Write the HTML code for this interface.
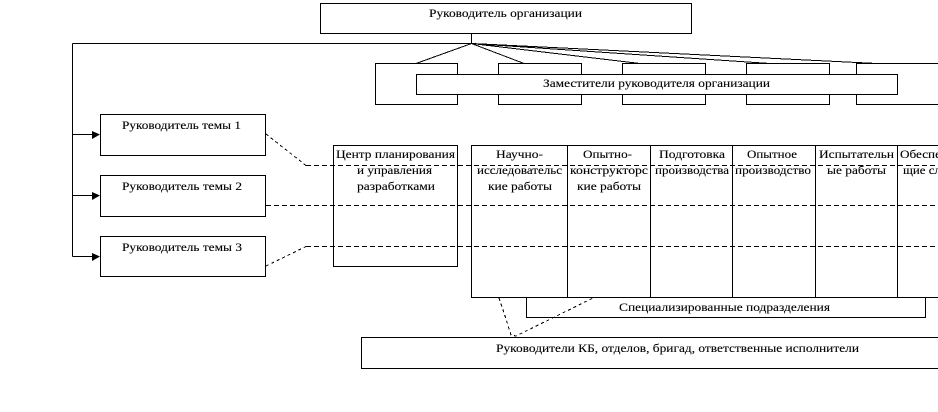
<!DOCTYPE html>
<html>
<head>
<meta charset="utf-8">
<style>
html,body{margin:0;padding:0;background:#fff;overflow:hidden}
svg{display:block}
.b{fill:#fff;stroke:#000;stroke-width:1;shape-rendering:crispEdges}
.l{fill:none;stroke:#000;stroke-width:1;shape-rendering:crispEdges}
.f{fill:none;stroke:#000;stroke-width:1;shape-rendering:crispEdges}
.d{fill:none;stroke:#000;stroke-width:1;stroke-dasharray:5 3;shape-rendering:crispEdges}
.s{fill:none;stroke:#000;stroke-width:1;stroke-dasharray:3 3;shape-rendering:crispEdges}
text{font-family:"Liberation Serif","Noto Serif CJK SC",serif;font-size:12px;fill:#000;stroke:#000;stroke-width:.12px}
</style>
</head>
<body>
<svg width="938" height="412" viewBox="0 0 938 412" xmlns="http://www.w3.org/2000/svg">
<rect x="0" y="0" width="938" height="412" fill="#fff"/>

<!-- top box -->
<rect class="b" x="320.5" y="3.5" width="371" height="30"/>
<path class="l" d="M471.5 33.5V43.5M72.5 43.5H471.5M72.5 43.5V256.5"/>

<!-- fan connectors -->
<path class="f" d="M471.5 43.5L416 63.5M471.5 43.5L524 63.5M471.5 43.5L640 63.5M471.5 43.5L770 63.5M471.5 43.5L877 63.5"/>

<!-- deputy boxes -->
<rect class="b" x="375.5" y="63.5" width="82" height="41"/>
<rect class="b" x="498.5" y="63.5" width="83" height="41"/>
<rect class="b" x="622.5" y="63.5" width="83" height="41"/>
<rect class="b" x="746.5" y="63.5" width="83" height="41"/>
<rect class="b" x="856.5" y="63.5" width="100" height="41"/>
<rect class="b" x="416.5" y="74.5" width="481" height="20"/>

<!-- theme leaders -->
<path class="l" d="M72.5 134.5H94M72.5 195.5H94M72.5 256.5H94"/>
<path d="M92 131V139L100 134.5ZM92 192V200L100 195.5ZM92 253V261L100 256.5Z" fill="#000"/>
<rect class="b" x="100.5" y="114.5" width="165" height="41"/>
<rect class="b" x="100.5" y="175.5" width="165" height="41"/>
<rect class="b" x="100.5" y="236.5" width="165" height="40"/>

<!-- center box and table -->
<rect class="b" x="333.5" y="145.5" width="124" height="121"/>
<rect class="b" x="471.5" y="145.5" width="490" height="152"/>
<path class="l" d="M567.5 145.5V297.5M650.5 145.5V297.5M732.5 145.5V297.5M815.5 145.5V297.5M897.5 145.5V297.5"/>

<!-- dashed -->
<path class="s" d="M266 134L306 165.5"/>
<path class="d" d="M306 165.5H938"/>
<path class="d" d="M266 205.5H938"/>
<path class="s" d="M266 266L306 246.5"/>
<path class="d" d="M306 246.5H938"/>

<!-- bottom boxes -->
<rect class="b" x="526.5" y="297.5" width="399" height="20"/>
<rect class="b" x="361.5" y="337.5" width="600" height="31"/>
<path class="s" d="M499 298L506 319L511 335L516 336L594 297.5"/>

<!-- labels -->
<text x="429" y="17" textLength="153" lengthAdjust="spacingAndGlyphs">Руководитель организации</text>
<text x="543" y="87" textLength="227" lengthAdjust="spacingAndGlyphs">Заместители руководителя организации</text>
<text x="122" y="129" textLength="119" lengthAdjust="spacingAndGlyphs">Руководитель темы 1</text>
<text x="122" y="190" textLength="120" lengthAdjust="spacingAndGlyphs">Руководитель темы 2</text>
<text x="122" y="251" textLength="120" lengthAdjust="spacingAndGlyphs">Руководитель темы 3</text>

<text x="336" y="158" textLength="119" lengthAdjust="spacingAndGlyphs">Центр планирования</text>
<text x="357" y="174" textLength="75" lengthAdjust="spacingAndGlyphs">и управления</text>
<text x="357" y="190" textLength="78" lengthAdjust="spacingAndGlyphs">разработками</text>

<text x="496" y="158" textLength="47" lengthAdjust="spacingAndGlyphs">Научно-</text>
<text x="477" y="174" textLength="85" lengthAdjust="spacingAndGlyphs">исследовательс</text>
<text x="488" y="190" textLength="64" lengthAdjust="spacingAndGlyphs">кие работы</text>

<text x="583" y="158" textLength="49" lengthAdjust="spacingAndGlyphs">Опытно-</text>
<text x="570" y="174" textLength="78" lengthAdjust="spacingAndGlyphs">конструкторс</text>
<text x="577" y="190" textLength="64" lengthAdjust="spacingAndGlyphs">кие работы</text>

<text x="659" y="158" textLength="66" lengthAdjust="spacingAndGlyphs">Подготовка</text>
<text x="655" y="174" textLength="74" lengthAdjust="spacingAndGlyphs">производства</text>

<text x="747" y="158" textLength="50" lengthAdjust="spacingAndGlyphs">Опытное</text>
<text x="735" y="174" textLength="76" lengthAdjust="spacingAndGlyphs">производство</text>

<text x="819" y="158" textLength="75" lengthAdjust="spacingAndGlyphs">Испытательн</text>
<text x="827" y="174" textLength="59" lengthAdjust="spacingAndGlyphs">ые работы</text>

<text x="900" y="158" textLength="76" lengthAdjust="spacingAndGlyphs">Обеспечиваю</text>
<text x="903" y="174" textLength="68" lengthAdjust="spacingAndGlyphs">щие службы</text>

<text x="619" y="311" textLength="211" lengthAdjust="spacingAndGlyphs">Специализированные подразделения</text>
<text x="496" y="352" textLength="363" lengthAdjust="spacingAndGlyphs">Руководители КБ, отделов, бригад, ответственные исполнители</text>
</svg>
</body>
</html>
